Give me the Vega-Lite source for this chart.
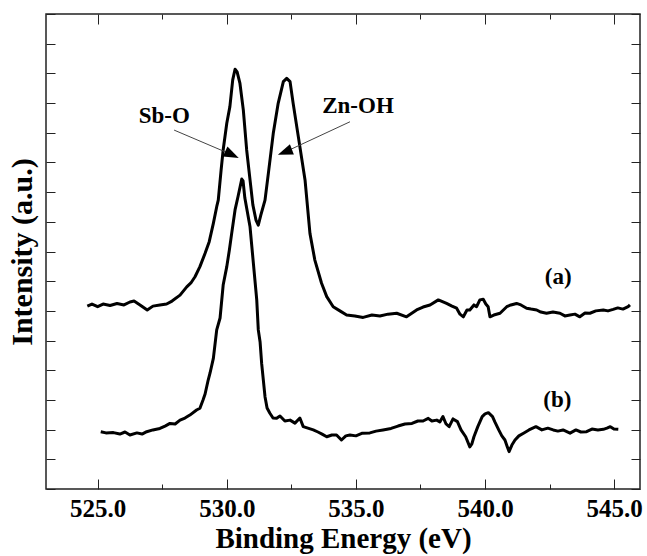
{
  "$schema": "https://vega.github.io/schema/vega-lite/v6.json",
  "width": 594,
  "height": 475,
  "autosize": {"type": "none"},
  "padding": {"left": 46, "top": 14, "right": 7, "bottom": 67},
  "background": "white",
  "config": {
    "view": {"stroke": "#222", "strokeWidth": 1.5},
    "axis": {
      "domain": false,
      "grid": false,
      "tickColor": "#222",
      "tickWidth": 1,
      "labelFont": "Liberation Serif",
      "titleFont": "Liberation Serif",
      "labelFontWeight": "bold",
      "titleFontWeight": "bold",
      "labelColor": "black",
      "titleColor": "black"
    }
  },
  "datasets": {
    "spectra": [
      {"curve": "a", "energy": 524.60, "intensity": 6.16},
      {"curve": "a", "energy": 524.78, "intensity": 6.23},
      {"curve": "a", "energy": 525.00, "intensity": 6.14},
      {"curve": "a", "energy": 525.21, "intensity": 6.23},
      {"curve": "a", "energy": 525.48, "intensity": 6.18},
      {"curve": "a", "energy": 525.75, "intensity": 6.25},
      {"curve": "a", "energy": 526.02, "intensity": 6.20},
      {"curve": "a", "energy": 526.25, "intensity": 6.30},
      {"curve": "a", "energy": 526.41, "intensity": 6.33},
      {"curve": "a", "energy": 526.64, "intensity": 6.20},
      {"curve": "a", "energy": 526.92, "intensity": 6.03},
      {"curve": "a", "energy": 527.14, "intensity": 6.16},
      {"curve": "a", "energy": 527.41, "intensity": 6.20},
      {"curve": "a", "energy": 527.67, "intensity": 6.23},
      {"curve": "a", "energy": 527.88, "intensity": 6.33},
      {"curve": "a", "energy": 528.19, "intensity": 6.53},
      {"curve": "a", "energy": 528.45, "intensity": 6.81},
      {"curve": "a", "energy": 528.61, "intensity": 6.94},
      {"curve": "a", "energy": 528.77, "intensity": 7.15},
      {"curve": "a", "energy": 528.96, "intensity": 7.49},
      {"curve": "a", "energy": 529.16, "intensity": 7.94},
      {"curve": "a", "energy": 529.32, "intensity": 8.33},
      {"curve": "a", "energy": 529.48, "intensity": 8.95},
      {"curve": "a", "energy": 529.61, "intensity": 9.51},
      {"curve": "a", "energy": 529.67, "intensity": 9.73},
      {"curve": "a", "energy": 529.78, "intensity": 10.74},
      {"curve": "a", "energy": 529.86, "intensity": 11.42},
      {"curve": "a", "energy": 530.00, "intensity": 12.32},
      {"curve": "a", "energy": 530.12, "intensity": 12.88},
      {"curve": "a", "energy": 530.23, "intensity": 13.78},
      {"curve": "a", "energy": 530.32, "intensity": 14.14},
      {"curve": "a", "energy": 530.40, "intensity": 14.05},
      {"curve": "a", "energy": 530.51, "intensity": 13.66},
      {"curve": "a", "energy": 530.64, "intensity": 12.77},
      {"curve": "a", "energy": 530.77, "intensity": 11.42},
      {"curve": "a", "energy": 530.90, "intensity": 10.41},
      {"curve": "a", "energy": 531.01, "intensity": 9.57},
      {"curve": "a", "energy": 531.13, "intensity": 9.06},
      {"curve": "a", "energy": 531.22, "intensity": 8.89},
      {"curve": "a", "energy": 531.32, "intensity": 9.23},
      {"curve": "a", "energy": 531.48, "intensity": 9.73},
      {"curve": "a", "energy": 531.61, "intensity": 10.63},
      {"curve": "a", "energy": 531.80, "intensity": 11.98},
      {"curve": "a", "energy": 531.99, "intensity": 12.99},
      {"curve": "a", "energy": 532.19, "intensity": 13.72},
      {"curve": "a", "energy": 532.32, "intensity": 13.83},
      {"curve": "a", "energy": 532.45, "intensity": 13.72},
      {"curve": "a", "energy": 532.57, "intensity": 12.99},
      {"curve": "a", "energy": 532.77, "intensity": 11.87},
      {"curve": "a", "energy": 533.03, "intensity": 10.41},
      {"curve": "a", "energy": 533.22, "intensity": 8.61},
      {"curve": "a", "energy": 533.41, "intensity": 7.71},
      {"curve": "a", "energy": 533.67, "intensity": 6.93},
      {"curve": "a", "energy": 533.87, "intensity": 6.48},
      {"curve": "a", "energy": 534.12, "intensity": 6.14},
      {"curve": "a", "energy": 534.38, "intensity": 6.00},
      {"curve": "a", "energy": 534.64, "intensity": 5.86},
      {"curve": "a", "energy": 534.96, "intensity": 5.83},
      {"curve": "a", "energy": 535.28, "intensity": 5.78},
      {"curve": "a", "energy": 535.62, "intensity": 5.86},
      {"curve": "a", "energy": 535.93, "intensity": 5.83},
      {"curve": "a", "energy": 536.24, "intensity": 5.89},
      {"curve": "a", "energy": 536.58, "intensity": 5.92},
      {"curve": "a", "energy": 536.96, "intensity": 5.80},
      {"curve": "a", "energy": 537.35, "intensity": 6.03},
      {"curve": "a", "energy": 537.60, "intensity": 6.13},
      {"curve": "a", "energy": 537.87, "intensity": 6.20},
      {"curve": "a", "energy": 538.19, "intensity": 6.37},
      {"curve": "a", "energy": 538.51, "intensity": 6.25},
      {"curve": "a", "energy": 538.72, "intensity": 6.16},
      {"curve": "a", "energy": 538.90, "intensity": 6.09},
      {"curve": "a", "energy": 539.03, "intensity": 5.89},
      {"curve": "a", "energy": 539.16, "intensity": 5.80},
      {"curve": "a", "energy": 539.30, "intensity": 6.03},
      {"curve": "a", "energy": 539.41, "intensity": 6.03},
      {"curve": "a", "energy": 539.57, "intensity": 6.20},
      {"curve": "a", "energy": 539.67, "intensity": 6.14},
      {"curve": "a", "energy": 539.80, "intensity": 6.37},
      {"curve": "a", "energy": 539.93, "intensity": 6.39},
      {"curve": "a", "energy": 540.03, "intensity": 6.23},
      {"curve": "a", "energy": 540.12, "intensity": 6.14},
      {"curve": "a", "energy": 540.19, "intensity": 5.80},
      {"curve": "a", "energy": 540.34, "intensity": 5.86},
      {"curve": "a", "energy": 540.58, "intensity": 5.92},
      {"curve": "a", "energy": 540.84, "intensity": 6.14},
      {"curve": "a", "energy": 541.00, "intensity": 6.20},
      {"curve": "a", "energy": 541.22, "intensity": 6.25},
      {"curve": "a", "energy": 541.39, "intensity": 6.20},
      {"curve": "a", "energy": 541.61, "intensity": 6.09},
      {"curve": "a", "energy": 541.78, "intensity": 6.06},
      {"curve": "a", "energy": 542.00, "intensity": 6.03},
      {"curve": "a", "energy": 542.16, "intensity": 5.96},
      {"curve": "a", "energy": 542.38, "intensity": 5.92},
      {"curve": "a", "energy": 542.63, "intensity": 5.96},
      {"curve": "a", "energy": 542.90, "intensity": 5.92},
      {"curve": "a", "energy": 543.09, "intensity": 5.83},
      {"curve": "a", "energy": 543.29, "intensity": 5.86},
      {"curve": "a", "energy": 543.48, "intensity": 5.89},
      {"curve": "a", "energy": 543.67, "intensity": 5.80},
      {"curve": "a", "energy": 543.87, "intensity": 5.93},
      {"curve": "a", "energy": 544.06, "intensity": 5.92},
      {"curve": "a", "energy": 544.29, "intensity": 6.00},
      {"curve": "a", "energy": 544.58, "intensity": 6.03},
      {"curve": "a", "energy": 544.76, "intensity": 6.00},
      {"curve": "a", "energy": 544.96, "intensity": 6.05},
      {"curve": "a", "energy": 545.14, "intensity": 6.10},
      {"curve": "a", "energy": 545.34, "intensity": 6.06},
      {"curve": "a", "energy": 545.54, "intensity": 6.14},
      {"curve": "a", "energy": 545.61, "intensity": 6.20},
      {"curve": "b", "energy": 525.12, "intensity": 1.93},
      {"curve": "b", "energy": 525.32, "intensity": 1.89},
      {"curve": "b", "energy": 525.61, "intensity": 1.90},
      {"curve": "b", "energy": 525.86, "intensity": 1.85},
      {"curve": "b", "energy": 526.06, "intensity": 1.92},
      {"curve": "b", "energy": 526.25, "intensity": 1.82},
      {"curve": "b", "energy": 526.52, "intensity": 1.89},
      {"curve": "b", "energy": 526.72, "intensity": 1.85},
      {"curve": "b", "energy": 526.90, "intensity": 1.93},
      {"curve": "b", "energy": 527.14, "intensity": 1.99},
      {"curve": "b", "energy": 527.41, "intensity": 2.04},
      {"curve": "b", "energy": 527.61, "intensity": 2.12},
      {"curve": "b", "energy": 527.80, "intensity": 2.21},
      {"curve": "b", "energy": 528.00, "intensity": 2.19},
      {"curve": "b", "energy": 528.19, "intensity": 2.32},
      {"curve": "b", "energy": 528.38, "intensity": 2.39},
      {"curve": "b", "energy": 528.57, "intensity": 2.49},
      {"curve": "b", "energy": 528.83, "intensity": 2.66},
      {"curve": "b", "energy": 528.96, "intensity": 2.72},
      {"curve": "b", "energy": 529.08, "intensity": 3.00},
      {"curve": "b", "energy": 529.16, "intensity": 3.20},
      {"curve": "b", "energy": 529.28, "intensity": 3.67},
      {"curve": "b", "energy": 529.35, "intensity": 3.90},
      {"curve": "b", "energy": 529.48, "intensity": 4.40},
      {"curve": "b", "energy": 529.61, "intensity": 5.36},
      {"curve": "b", "energy": 529.74, "intensity": 5.76},
      {"curve": "b", "energy": 529.86, "intensity": 6.87},
      {"curve": "b", "energy": 530.00, "intensity": 7.49},
      {"curve": "b", "energy": 530.10, "intensity": 8.05},
      {"curve": "b", "energy": 530.19, "intensity": 8.61},
      {"curve": "b", "energy": 530.32, "intensity": 9.40},
      {"curve": "b", "energy": 530.44, "intensity": 9.87},
      {"curve": "b", "energy": 530.58, "intensity": 10.44},
      {"curve": "b", "energy": 530.63, "intensity": 10.38},
      {"curve": "b", "energy": 530.70, "intensity": 9.80},
      {"curve": "b", "energy": 530.90, "intensity": 8.83},
      {"curve": "b", "energy": 531.03, "intensity": 7.60},
      {"curve": "b", "energy": 531.16, "intensity": 6.37},
      {"curve": "b", "energy": 531.22, "intensity": 5.36},
      {"curve": "b", "energy": 531.29, "intensity": 4.95},
      {"curve": "b", "energy": 531.35, "intensity": 4.23},
      {"curve": "b", "energy": 531.48, "intensity": 3.11},
      {"curve": "b", "energy": 531.56, "intensity": 2.73},
      {"curve": "b", "energy": 531.67, "intensity": 2.55},
      {"curve": "b", "energy": 531.79, "intensity": 2.39},
      {"curve": "b", "energy": 531.93, "intensity": 2.38},
      {"curve": "b", "energy": 532.06, "intensity": 2.46},
      {"curve": "b", "energy": 532.25, "intensity": 2.29},
      {"curve": "b", "energy": 532.45, "intensity": 2.32},
      {"curve": "b", "energy": 532.64, "intensity": 2.22},
      {"curve": "b", "energy": 532.83, "intensity": 2.39},
      {"curve": "b", "energy": 532.96, "intensity": 2.10},
      {"curve": "b", "energy": 533.14, "intensity": 2.05},
      {"curve": "b", "energy": 533.35, "intensity": 1.99},
      {"curve": "b", "energy": 533.53, "intensity": 1.92},
      {"curve": "b", "energy": 533.69, "intensity": 1.85},
      {"curve": "b", "energy": 533.87, "intensity": 1.76},
      {"curve": "b", "energy": 534.07, "intensity": 1.82},
      {"curve": "b", "energy": 534.25, "intensity": 1.82},
      {"curve": "b", "energy": 534.44, "intensity": 1.65},
      {"curve": "b", "energy": 534.61, "intensity": 1.79},
      {"curve": "b", "energy": 534.77, "intensity": 1.82},
      {"curve": "b", "energy": 535.00, "intensity": 1.79},
      {"curve": "b", "energy": 535.25, "intensity": 1.88},
      {"curve": "b", "energy": 535.54, "intensity": 1.89},
      {"curve": "b", "energy": 535.78, "intensity": 1.95},
      {"curve": "b", "energy": 536.05, "intensity": 1.99},
      {"curve": "b", "energy": 536.36, "intensity": 2.04},
      {"curve": "b", "energy": 536.63, "intensity": 2.12},
      {"curve": "b", "energy": 536.90, "intensity": 2.19},
      {"curve": "b", "energy": 537.17, "intensity": 2.21},
      {"curve": "b", "energy": 537.40, "intensity": 2.29},
      {"curve": "b", "energy": 537.60, "intensity": 2.29},
      {"curve": "b", "energy": 537.80, "intensity": 2.38},
      {"curve": "b", "energy": 537.94, "intensity": 2.29},
      {"curve": "b", "energy": 538.13, "intensity": 2.32},
      {"curve": "b", "energy": 538.25, "intensity": 2.26},
      {"curve": "b", "energy": 538.37, "intensity": 2.44},
      {"curve": "b", "energy": 538.49, "intensity": 2.19},
      {"curve": "b", "energy": 538.61, "intensity": 2.10},
      {"curve": "b", "energy": 538.76, "intensity": 2.36},
      {"curve": "b", "energy": 538.93, "intensity": 2.27},
      {"curve": "b", "energy": 539.07, "intensity": 1.99},
      {"curve": "b", "energy": 539.25, "intensity": 1.76},
      {"curve": "b", "energy": 539.41, "intensity": 1.42},
      {"curve": "b", "energy": 539.49, "intensity": 1.52},
      {"curve": "b", "energy": 539.57, "intensity": 1.76},
      {"curve": "b", "energy": 539.72, "intensity": 2.10},
      {"curve": "b", "energy": 539.89, "intensity": 2.44},
      {"curve": "b", "energy": 540.00, "intensity": 2.53},
      {"curve": "b", "energy": 540.13, "intensity": 2.57},
      {"curve": "b", "energy": 540.29, "intensity": 2.44},
      {"curve": "b", "energy": 540.38, "intensity": 2.26},
      {"curve": "b", "energy": 540.53, "intensity": 1.99},
      {"curve": "b", "energy": 540.65, "intensity": 1.79},
      {"curve": "b", "energy": 540.77, "intensity": 1.65},
      {"curve": "b", "energy": 540.85, "intensity": 1.45},
      {"curve": "b", "energy": 540.93, "intensity": 1.26},
      {"curve": "b", "energy": 541.04, "intensity": 1.48},
      {"curve": "b", "energy": 541.16, "intensity": 1.65},
      {"curve": "b", "energy": 541.31, "intensity": 1.79},
      {"curve": "b", "energy": 541.49, "intensity": 1.88},
      {"curve": "b", "energy": 541.70, "intensity": 1.99},
      {"curve": "b", "energy": 541.97, "intensity": 2.10},
      {"curve": "b", "energy": 542.20, "intensity": 1.99},
      {"curve": "b", "energy": 542.43, "intensity": 2.05},
      {"curve": "b", "energy": 542.64, "intensity": 1.99},
      {"curve": "b", "energy": 542.82, "intensity": 1.95},
      {"curve": "b", "energy": 543.02, "intensity": 1.99},
      {"curve": "b", "energy": 543.29, "intensity": 1.88},
      {"curve": "b", "energy": 543.52, "intensity": 1.99},
      {"curve": "b", "energy": 543.71, "intensity": 1.92},
      {"curve": "b", "energy": 543.93, "intensity": 1.93},
      {"curve": "b", "energy": 544.14, "intensity": 2.02},
      {"curve": "b", "energy": 544.37, "intensity": 1.99},
      {"curve": "b", "energy": 544.58, "intensity": 2.01},
      {"curve": "b", "energy": 544.72, "intensity": 2.05},
      {"curve": "b", "energy": 544.85, "intensity": 2.10},
      {"curve": "b", "energy": 544.99, "intensity": 2.02},
      {"curve": "b", "energy": 545.16, "intensity": 2.01}
    ],
    "labels": [
      {"text": "Sb-O", "energy": 527.58, "intensity": 12.32},
      {"text": "Zn-OH", "energy": 535.08, "intensity": 12.65},
      {"text": "(a)", "energy": 542.83, "intensity": 6.90},
      {"text": "(b)", "energy": 542.80, "intensity": 2.77}
    ],
    "arrows": [
      {"name": "Sb-O", "energy": 527.96, "intensity": 12.09, "energy2": 530.20, "intensity2": 11.26},
      {"name": "Zn-OH", "energy": 534.77, "intensity": 12.37, "energy2": 532.25, "intensity2": 11.35}
    ]
  },
  "layer": [
    {
      "data": {"name": "spectra"},
      "mark": {"type": "line", "color": "black", "strokeWidth": 3, "strokeJoin": "round"},
      "encoding": {
        "x": {
          "field": "energy", "type": "quantitative",
          "scale": {"domain": [523, 546], "nice": false, "zero": false},
          "axis": {
            "orient": "bottom", "values": [525, 530, 535, 540, 545], "format": ".1f",
            "tickSize": -10, "labelPadding": 17, "labelFontSize": 25,
            "title": "Binding Energy (eV)", "titleFontSize": 29, "titlePadding": 3
          }
        },
        "y": {
          "field": "intensity", "type": "quantitative",
          "scale": {"domain": [0, 16], "nice": false, "zero": false},
          "axis": {
            "orient": "left", "values": [0,1,2,3,4,5,6,7,8,9,10,11,12,13,14,15,16],
            "labels": false, "tickSize": -9,
            "title": "Intensity (a.u.)", "titleFontSize": 30, "titlePadding": 8
          }
        },
        "detail": {"field": "curve", "type": "nominal"}
      }
    },
    {
      "data": {"name": "labels"},
      "mark": {"type": "text", "font": "Liberation Serif", "fontWeight": "bold", "fontSize": 23, "align": "center", "baseline": "alphabetic", "color": "black"},
      "encoding": {
        "x": {
          "field": "energy", "type": "quantitative",
          "scale": {"domain": [523, 546], "nice": false, "zero": false},
          "axis": {"orient": "bottom", "values": [527.5, 532.5, 537.5, 542.5], "labels": false, "tickSize": -5, "title": null}
        },
        "y": {
          "field": "intensity", "type": "quantitative",
          "scale": {"domain": [0, 16], "nice": false, "zero": false},
          "axis": {"orient": "right", "values": [0,1,2,3,4,5,6,7,8,9,10,11,12,13,14,15,16], "labels": false, "tickSize": -9, "title": null}
        },
        "text": {"field": "text", "type": "nominal"}
      }
    },
    {
      "data": {"name": "arrows"},
      "mark": {"type": "rule", "color": "#444", "strokeWidth": 1},
      "encoding": {
        "x": {
          "field": "energy", "type": "quantitative",
          "scale": {"domain": [523, 546], "nice": false, "zero": false},
          "axis": {"orient": "top", "values": [525, 530, 535, 540, 545], "labels": false, "tickSize": -10, "title": null}
        },
        "y": {
          "field": "intensity", "type": "quantitative",
          "scale": {"domain": [0, 16], "nice": false, "zero": false},
          "axis": null
        },
        "x2": {"field": "energy2"},
        "y2": {"field": "intensity2"}
      }
    },
    {
      "data": {"name": "arrows"},
      "transform": [{"filter": "datum.name === 'Sb-O'"}],
      "mark": {"type": "point", "shape": "M1,0L-1,-0.73L-1,0.73Z", "size": 225, "filled": true, "color": "black", "opacity": 1, "angle": 25},
      "encoding": {
        "x": {
          "field": "energy2", "type": "quantitative",
          "scale": {"domain": [523, 546], "nice": false, "zero": false},
          "axis": {"orient": "top", "values": [527.5, 532.5, 537.5, 542.5], "labels": false, "tickSize": -5, "title": null}
        },
        "y": {
          "field": "intensity2", "type": "quantitative",
          "scale": {"domain": [0, 16], "nice": false, "zero": false},
          "axis": null
        }
      }
    },
    {
      "data": {"name": "arrows"},
      "transform": [{"filter": "datum.name === 'Zn-OH'"}],
      "mark": {"type": "point", "shape": "M1,0L-1,-0.73L-1,0.73Z", "size": 225, "filled": true, "color": "black", "opacity": 1, "angle": 159},
      "encoding": {
        "x": {
          "field": "energy2", "type": "quantitative",
          "scale": {"domain": [523, 546], "nice": false, "zero": false},
          "axis": null
        },
        "y": {
          "field": "intensity2", "type": "quantitative",
          "scale": {"domain": [0, 16], "nice": false, "zero": false},
          "axis": null
        }
      }
    }
  ],
  "resolve": {"axis": {"x": "independent", "y": "independent"}}
}
